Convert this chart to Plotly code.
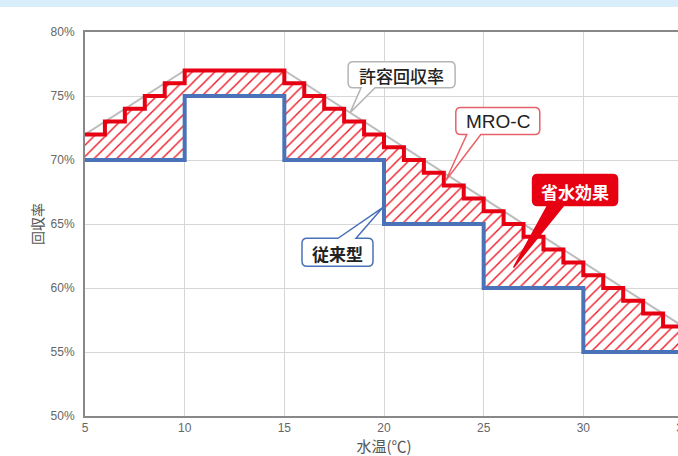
import plotly.graph_objects as go

# ---- data (values in %) ----
temps_allowed = [5, 10, 15, 35]
allowed_rate = [72, 77, 77, 57]          # 許容回収率

temps_mro = list(range(5, 36))
mro_rate = [72, 73, 74, 75, 76, 77, 77, 77, 77, 77,
            76, 75, 74, 73, 72, 71, 70, 69, 68, 67,
            66, 65, 64, 63, 62, 61, 60, 59, 58, 57, 57]   # MRO-C (step, hv)

temps_conv = [5, 10, 15, 20, 25, 30, 35]
conv_rate = [70, 75, 70, 65, 60, 55, 55]                 # 従来型 (step, hv)

x_ticks = [5, 10, 15, 20, 25, 30, 35]
y_ticks = [50, 55, 60, 65, 70, 75, 80]
y_ticktext = [f"{v}%" for v in y_ticks]

RED = "#e60012"
BLUE = "#4a72b8"
GRAY = "#bdbdbd"
JP = "Noto Sans CJK JP"

fig = go.Figure()

# base for the hatched fill
fig.add_trace(go.Scatter(x=temps_conv, y=conv_rate, mode="lines", line_shape="hv",
                         line=dict(width=0, color=BLUE), hoverinfo="skip", showlegend=False))
# hatched 省水効果 area between conventional and MRO-C
fig.add_trace(go.Scatter(x=temps_mro, y=mro_rate, mode="lines", line_shape="hv",
                         line=dict(width=0, color=RED), fill="tonexty",
                         fillcolor="rgba(0,0,0,0)",
                         fillpattern=dict(shape="/", fgcolor="#ee1c28", fgopacity=1,
                                          bgcolor="white", size=8, solidity=0.18),
                         hoverinfo="skip", showlegend=False))
# 許容回収率
fig.add_trace(go.Scatter(x=temps_allowed, y=allowed_rate, mode="lines",
                         line=dict(color=GRAY, width=2), showlegend=False))
# MRO-C
fig.add_trace(go.Scatter(x=temps_mro, y=mro_rate, mode="lines", line_shape="hv",
                         line=dict(color=RED, width=4), showlegend=False))
# 従来型
fig.add_trace(go.Scatter(x=temps_conv, y=conv_rate, mode="lines", line_shape="hv",
                         line=dict(color=BLUE, width=4), showlegend=False))


def callout_path(L, R, B, T, a, b, tail_bottom=True, r=5):
    """Rounded box with a wedge tail pointing to (0,0); pixel coords, y up."""
    if tail_bottom:
        return (f"M {L+r},{T} H {R-r} Q {R},{T} {R},{T-r} V {B+r} Q {R},{B} {R-r},{B} "
                f"H {b} L 0,0 L {a},{B} H {L+r} Q {L},{B} {L},{B+r} V {T-r} "
                f"Q {L},{T} {L+r},{T} Z")
    return (f"M {L+r},{T} H {a} L 0,0 L {b},{T} H {R-r} Q {R},{T} {R},{T-r} V {B+r} "
            f"Q {R},{B} {R-r},{B} H {L+r} Q {L},{B} {L},{B+r} V {T-r} "
            f"Q {L},{T} {L+r},{T} Z")


callouts = [
    # text, tip x, tip y, L, R, B, T, tail a, tail b, tail_bottom, border, fill, font color, size, weight, family
    ("許容回収率", 18.3, 73.7, -2, 105, 25, 51, 11, 25, True, "#b5b5b5", "white", "#222", 17, 500, JP),
    ("MRO-C", 23.1, 68.4, 10, 94, 46, 73, 21, 35, True, "#e8626a", "white", "#222", 19, 400, "Liberation Sans"),
    ("省水効果", 26.5, 61.6, 19, 104, 62, 93, 34, 50, True, RED, RED, "white", 17, 700, JP),
    ("従来型", 19.95, 66.3, -81, -10, -59, -31, -45, -27, False, BLUE, "white", "#222", 17, 700, JP),
]

for (txt, tx, ty, L, R, B, T, a, b, tb, bc, fc, tc, fs, fw, fam) in callouts:
    fig.add_shape(type="path", xref="x", yref="y", xsizemode="pixel", ysizemode="pixel",
                  xanchor=tx, yanchor=ty, path=callout_path(L, R, B, T, a, b, tb),
                  line=dict(color=bc, width=1.5), fillcolor=fc, layer="above")
    fig.add_annotation(x=tx, y=ty, xref="x", yref="y", text=txt, showarrow=False,
                       xshift=(L + R) / 2, yshift=(B + T) / 2 - 1,
                       xanchor="center", yanchor="middle",
                       font=dict(family=fam, size=fs, color=tc, weight=fw))

# top light-blue band
fig.add_shape(type="rect", xref="paper", yref="paper", x0=-0.2, x1=1.2,
              y0=1.0651, y1=1.0834, fillcolor="#d8eefa", line=dict(width=0), layer="above")

fig.update_layout(
    width=700, height=456,
    margin=dict(l=85, r=17, t=32, b=40),
    paper_bgcolor="white", plot_bgcolor="white",
    showlegend=False,
    font=dict(family="Liberation Sans", color="#666"),
)
fig.update_xaxes(range=[5, 35], tickvals=x_ticks, showgrid=True, gridcolor="#d6d6d6",
                 gridwidth=1, showline=True, linecolor="#888", linewidth=2, mirror=True,
                 zeroline=False, ticks="", tickfont=dict(size=12, color="#666"),
                 automargin=False,
                 title=dict(text="水温(℃)", font=dict(family=JP, size=15, color="#555"),
                            standoff=0))
fig.update_yaxes(range=[50, 80], tickvals=y_ticks, ticktext=y_ticktext, showgrid=True,
                 gridcolor="#d6d6d6", gridwidth=1, showline=True, linecolor="#888",
                 linewidth=2, mirror=True, zeroline=False, ticks="",
                 ticklabelstandoff=6, tickfont=dict(size=12, color="#666"),
                 automargin=False,
                 title=dict(text="回収率", font=dict(family=JP, size=14, color="#555"),
                            standoff=4))

fig.write_html("out.html", config={"displayModeBar": False},
               post_script="document.body.style.margin='0';document.body.style.overflow='hidden';")
